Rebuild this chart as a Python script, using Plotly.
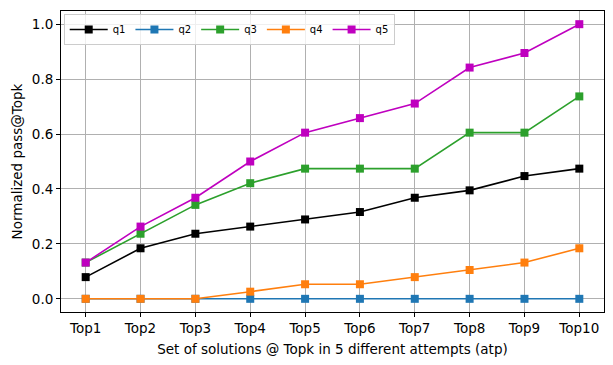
import plotly.graph_objects as go

categories = ["Top1", "Top2", "Top3", "Top4", "Top5", "Top6", "Top7", "Top8", "Top9", "Top10"]
q1 = [0.079, 0.184, 0.237, 0.263, 0.289, 0.316, 0.368, 0.395, 0.447, 0.474]
q2 = [0, 0, 0, 0, 0, 0, 0, 0, 0, 0]
q3 = [0.132, 0.237, 0.342, 0.421, 0.474, 0.474, 0.474, 0.605, 0.605, 0.737]
q4 = [0, 0, 0, 0.026, 0.053, 0.053, 0.079, 0.105, 0.132, 0.184]
q5 = [0.132, 0.263, 0.368, 0.5, 0.605, 0.658, 0.711, 0.842, 0.895, 1.0]

series = [("q1", q1, "#000000"), ("q2", q2, "#1f77b4"), ("q3", q3, "#2ca02c"),
          ("q4", q4, "#ff7f0e"), ("q5", q5, "#bf00bf")]

x = list(range(len(categories)))
fig = go.Figure()
for name, vals, color in series:
    fig.add_trace(go.Scatter(
        x=x, y=vals, name=name, mode="lines+markers",
        line=dict(color=color, width=1.6),
        marker=dict(symbol="square", size=8, color=color),
    ))

axis_common = dict(
    showline=True, linecolor="black", linewidth=1, mirror=True,
    showgrid=True, gridcolor="#b0b0b0", gridwidth=1,
    ticks="outside", ticklen=4, tickcolor="black",
    zeroline=False, tickfont=dict(size=13.5, color="black"),
    automargin=False,
)
fig.update_xaxes(
    tickvals=x, ticktext=categories, range=[-0.45, 9.45],
    title=dict(text="Set of solutions @ Topk in 5 different attempts (atp)", font=dict(size=13.5), standoff=10),
    **axis_common,
)
fig.update_yaxes(
    range=[-0.048, 1.048], tickvals=[0, 0.2, 0.4, 0.6, 0.8, 1.0], tickformat=".1f",
    title=dict(text="Normalized pass@Topk", font=dict(size=13.5), standoff=6),
    **axis_common,
)
# the page body adds an 8px margin, so the figure is kept inside the window
fig.update_layout(
    width=597, height=349,
    margin=dict(l=53, r=1, t=3, b=45),
    plot_bgcolor="white", paper_bgcolor="white",
    font=dict(family="DejaVu Sans", color="black"),
    legend=dict(
        orientation="h", x=0.005, y=0.99, xanchor="left", yanchor="top",
        bgcolor="rgba(255,255,255,0.8)", bordercolor="#cccccc", borderwidth=1,
        font=dict(size=10), itemwidth=38, tracegroupgap=0,
    ),
)
fig.write_html("out.html")
